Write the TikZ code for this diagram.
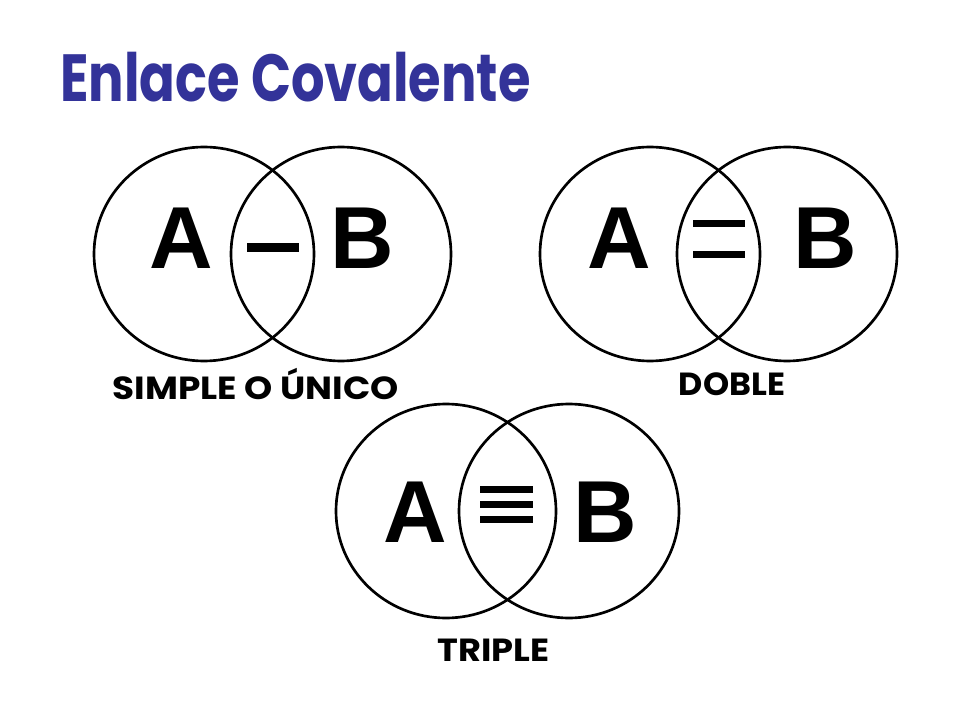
\documentclass[tikz,border=0pt]{standalone}
\usepackage{fontspec}
\setmainfont{Liberation Sans}
\newfontfamily\comicf{Poppins}
\definecolor{titleblue}{HTML}{333399}
\begin{document}
\begin{tikzpicture}[x=0.75pt,y=-0.75pt,
  ring/.style={line width=2pt},
  atom/.style={inner sep=0pt,anchor=base,font=\fontsize{66}{70}\selectfont\bfseries},
  lbl/.style={inner sep=0pt,font=\comicf\fontsize{24}{28}\selectfont\bfseries},
  bar/.style={fill=black}]
\useasboundingbox (0,0) rectangle (960,720);
\fill[white] (0,0) rectangle (960,720);
\node[inner sep=0pt,anchor=base west,text=titleblue,font=\comicf\fontsize{50}{56}\selectfont\bfseries] (title) at (60,102) {\scalebox{0.79}[1]{Enlace Covalente}};
% simple
\draw[ring] (204,254) ellipse [x radius=82.5pt, y radius=80.25pt];
\draw[ring] (341,254) ellipse [x radius=82.5pt, y radius=80.25pt];
\node[atom] (a1) at (181,269) {A};
\node[atom] (b1) at (362,269) {B};
\fill[bar] (247,243) rectangle (299,252);
\node[lbl] (l1) at (255.5,384) {\scalebox{1.12}[1]{SIMPLE O ÚNICO}};
% doble
\draw[ring] (650,254) ellipse [x radius=82.5pt, y radius=80.25pt];
\draw[ring] (787,254) ellipse [x radius=82.5pt, y radius=80.25pt];
\node[atom] (a2) at (619,269) {A};
\node[atom] (b2) at (825,269) {B};
\fill[bar] (693,220) rectangle (745,227.5);
\fill[bar] (693,251) rectangle (745,258.5);
\node[lbl] (l2) at (732,384) {\scalebox{1.04}[1]{DOBLE}};
% triple
\draw[ring] (446,511) ellipse [x radius=82.5pt, y radius=80.25pt];
\draw[ring] (569,511) ellipse [x radius=82.5pt, y radius=80.25pt];
\node[atom] (a3) at (415,542) {A};
\node[atom] (b3) at (605,542) {B};
\fill[bar] (480,486) rectangle (533,492.5);
\fill[bar] (480,501) rectangle (533,507.5);
\fill[bar] (480,516) rectangle (533,522.5);
\node[lbl] (l3) at (493.5,650) {\scalebox{1.1}[1]{TRIPLE}};
\end{tikzpicture}
\end{document}
